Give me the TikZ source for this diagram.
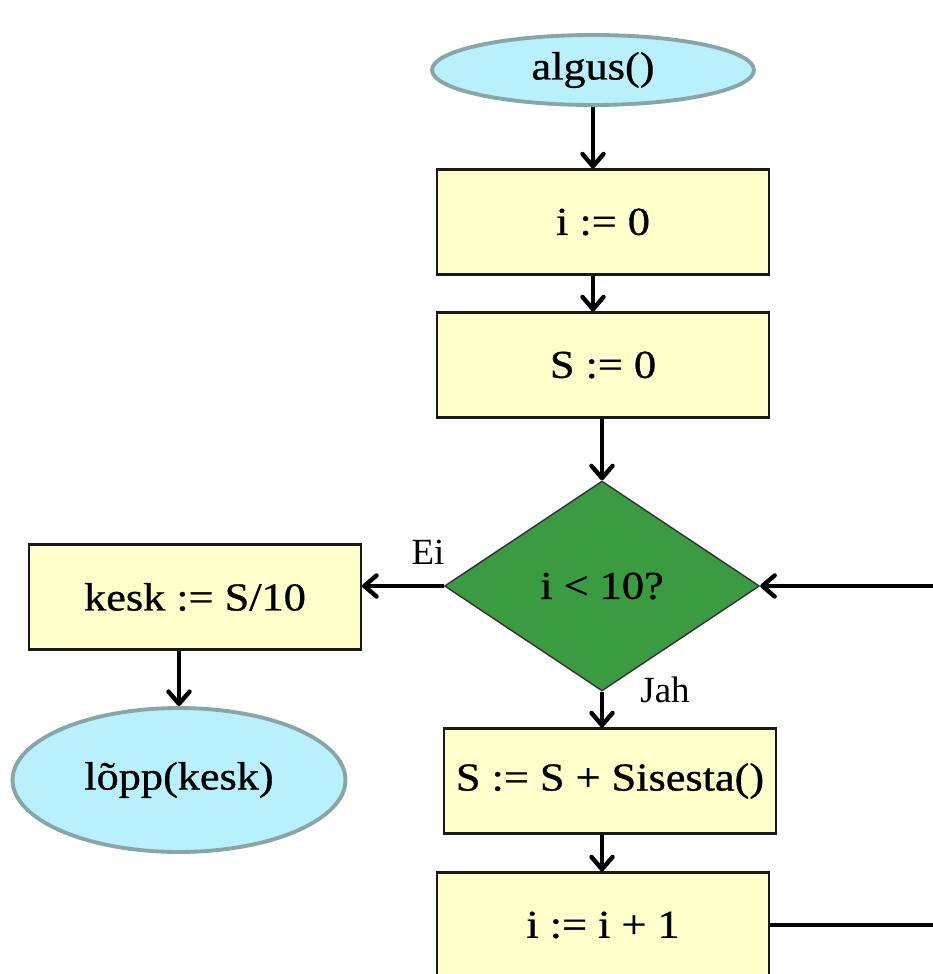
\documentclass[tikz,border=0pt]{standalone}
\usepackage{fontspec}
\setmainfont{Liberation Serif}[FakeStretch=1.12,FakeBold=0.8]
\newfontfamily\labelfont{Liberation Serif}
\usetikzlibrary{shapes.geometric,arrows.meta}

\definecolor{termfill}{HTML}{B8F0FC}
\definecolor{termline}{HTML}{88A6A8}
\definecolor{boxfill}{HTML}{FFFFCC}
\definecolor{condfill}{HTML}{3A9B40}

\tikzset{
  term/.style={ellipse, draw=termline, line width=2.2pt, fill=termfill,
    font=\fontsize{22.5}{26}\selectfont},
  block/.style={rectangle, draw=black!90, line width=1.2pt, fill=boxfill,
    minimum width=6.64cm, minimum height=2.1cm, font=\fontsize{22.5}{26}\selectfont},
  cond/.style={diamond, draw=black!80, line width=0.8pt, fill=condfill, inner sep=0pt,
    minimum width=6.3cm, minimum height=4.2cm, font=\fontsize{22.5}{26}\selectfont},
  flow/.style={line width=2.5pt, -{Straight Barb[length=7pt,width=12pt,round]}},
  lbl/.style={font=\labelfont\fontsize{21}{25}\selectfont}
}

\begin{document}
\begin{tikzpicture}[x=0.02cm, y=-0.02cm]
	\useasboundingbox (0,0) rectangle (933,974);
	\clip (0,0) rectangle (933,974);
	% Plokid
	\node[term, minimum width=6.44cm, minimum height=1.4cm] (start) at (593,70) {algus()};
	\node[block] (init) at (603,222) {i := 0};
	\node[block] (sum0) at (603,365) {S := 0};
	\node[cond] (test) at (602,586) {i < 10?};
	\node[block] (avg) at (195,597) {kesk := S/10};
	\node[term, minimum width=6.66cm, minimum height=2.88cm] (stop) at (179,780) {lõpp(kesk)};
	\node[block] (add) at (610,781) {S := S + Sisesta()};
	\node[block] (inc) at (603,925) {i := i + 1};
	\coordinate (back) at (950,925);
	% Nooled
	\draw[flow] (start.south) -- (start.south |- init.north);
	\draw[flow] (start.south |- init.south) -- (start.south |- sum0.north);
	\draw[flow] (test.north |- sum0.south) -- (test.north);
	\draw[flow] (test.west) -- (test.west -| avg.east);
	\draw[flow] (stop.north |- avg.south) -- (stop.north);
	\draw[flow] (test.south) -- (test.south |- add.north);
	\draw[flow] (test.south |- add.south) -- (test.south |- inc.north);
	\draw[flow] (inc.east) -- (back) -- (back |- test.east) -- (test.east);
	% Sildid
	\node[lbl] (no) at (428,552) {Ei};
	\node[lbl] (yes) at (665,690) {Jah};
\end{tikzpicture}
\end{document}
